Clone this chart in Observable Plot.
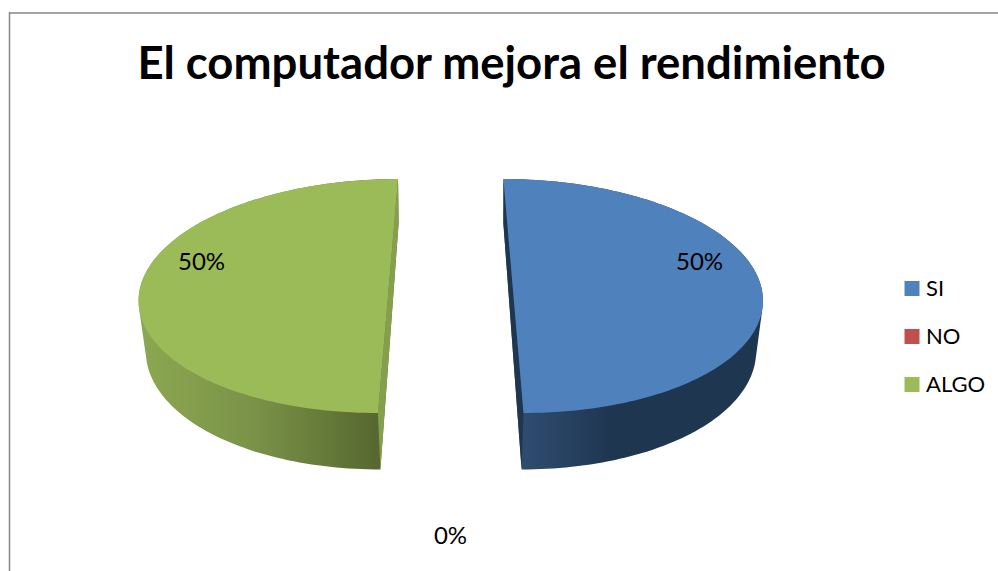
<!DOCTYPE html>
<html><head><meta charset="utf-8">
<script src="https://cdn.jsdelivr.net/npm/d3@7"></script>
<script src="https://cdn.jsdelivr.net/npm/@observablehq/plot@0.6"></script>
<style>html,body{margin:0;padding:0;background:#fff}svg{display:block}</style>
</head><body><div id="chart"></div>
<script>
const chartTitle = "El computador mejora el rendimiento";
const categories = ["SI", "NO", "ALGO"];
const shares = [50, 0, 50];
const colors = ["#4f81bd", "#c0504d", "#9bbb59"];
const chordColors = ["#1f3651", "#a04040", "#84a04d"];
const sideFills = ["url(#sideSI)", "none", "url(#sideALGO)"];

// 3-D pie layout (pixels): upper and lower rim of the tilted disc
const W = 998, H = 571;
const upper = {cx: 450.25, cy: 295.5, a: 249.25, b: 117, explode: 62.75, skew: 0.0858};
const lower = {cx: 450.5, cy: 346, a: 243.5, b: 123, explode: 61.5, skew: 0.074};
const startAngle = -90;
const labelSpot = [[699, 262], [450, 536], [201, 262]];

const rad = d => d * Math.PI / 180;
const total = d3.sum(shares);
let acc = startAngle;
const slices = categories.map((name, i) => {
  const t0 = acc, t1 = acc + shares[i] / total * 360;
  acc = t1;
  return {name, i, t0, t1, mid: (t0 + t1) / 2, share: shares[i]};
});
// Each exploded slice leans with the perspective of the view
function rimPoint(rim, s, t) {
  const dir = Math.cos(rad(s.mid));
  const dy = rim.b * Math.sin(rad(t));
  return {
    x: rim.cx + rim.explode * dir + rim.a * Math.cos(rad(t)) + rim.skew * dir * dy,
    y: rim.cy + dy
  };
}
function arc(rim, s) {
  return d3.range(0, 121).map(k => rimPoint(rim, s, s.t0 + (s.t1 - s.t0) * k / 120));
}
const drawn = slices.filter(s => s.share > 0);
const polys = {side: [], chord: [], top: []};
for (const s of drawn) {
  // The extruded wall is the hull of the two rims
  const rimPts = [...arc(lower, s), ...arc(upper, s)].map(p => [p.x, p.y]);
  for (const [x, y] of d3.polygonHull(rimPts)) polys.side.push({x, y, name: s.name});
  for (const p of arc(upper, s)) polys.top.push({...p, name: s.name});
  const chord = [rimPoint(upper, s, s.t0), rimPoint(lower, s, s.t0), rimPoint(lower, s, s.t1), rimPoint(upper, s, s.t1)];
  for (const p of chord) polys.chord.push({...p, name: s.name});
}
const chordFill = d => chordColors[categories.indexOf(d)];

function gradients() {
  const defs = d3.create("svg:defs");
  const add = (id, x1, x2, stops) => {
    const g = defs.append("linearGradient").attr("id", id).attr("gradientUnits", "userSpaceOnUse")
      .attr("x1", x1).attr("x2", x2).attr("y1", 0).attr("y2", 0);
    stops.forEach(([o, c]) => g.append("stop").attr("offset", o).attr("stop-color", c));
  };
  add("sideSI", 523, 755, [[0, "#2f4c70"], [0.38, "#1f3651"], [1, "#1f3651"]]);
  add("sideALGO", 147, 380, [[0, "#8ba650"], [0.45, "#7a9348"], [1, "#56672f"]]);
  return defs.node();
}

const legendY = i => 288 + 48 * i;
const labels = slices.map(s => ({text: s.share + "%", x: labelSpot[s.i][0], y: labelSpot[s.i][1]}));
const font = "Lato, 'Open Sans', sans-serif";

const plot = Plot.plot({
  width: W, height: H, margin: 0,
  style: {background: "#fff", fontFamily: font},
  x: {domain: [0, W], range: [0, W], axis: null},
  y: {domain: [0, H], range: [0, H], axis: null},
  color: {domain: categories, range: colors},
  marks: [
    gradients,
    Plot.ruleY([12.5], {x1: 9, x2: W, stroke: "#868686", strokeWidth: 1.5}),
    Plot.ruleX([9], {y1: 12, y2: H, stroke: "#868686", strokeWidth: 1.5}),
    ...drawn.map(s => Plot.line(polys.side.filter(d => d.name === s.name), {x: "x", y: "y", stroke: "none", fill: sideFills[s.i]})),
    ...drawn.map(s => Plot.line(polys.chord.filter(d => d.name === s.name), {x: "x", y: "y", stroke: "none", fill: chordFill(s.name)})),
    Plot.line(polys.top, {x: "x", y: "y", z: "name", stroke: "none", fill: "name"}),
    Plot.text(labels, {x: "x", y: "y", text: "text", fontSize: 24, fill: "#000", textAnchor: "middle"}),
    Plot.text([chartTitle], {x: () => 511, y: () => 64, text: d => d, fontSize: 45.5, fontWeight: 700, fill: "#000", textAnchor: "middle"}),
    Plot.dot(categories, {x: () => 911.5, y: (d, i) => legendY(i), symbol: "square", r: 8.46, fill: d => d, stroke: "none"}),
    Plot.text(categories, {x: () => 925.5, y: (d, i) => legendY(i), text: d => d, fontSize: 22, fill: "#000", textAnchor: "start"})
  ]
});
document.getElementById("chart").appendChild(plot);
</script>
</body></html>
